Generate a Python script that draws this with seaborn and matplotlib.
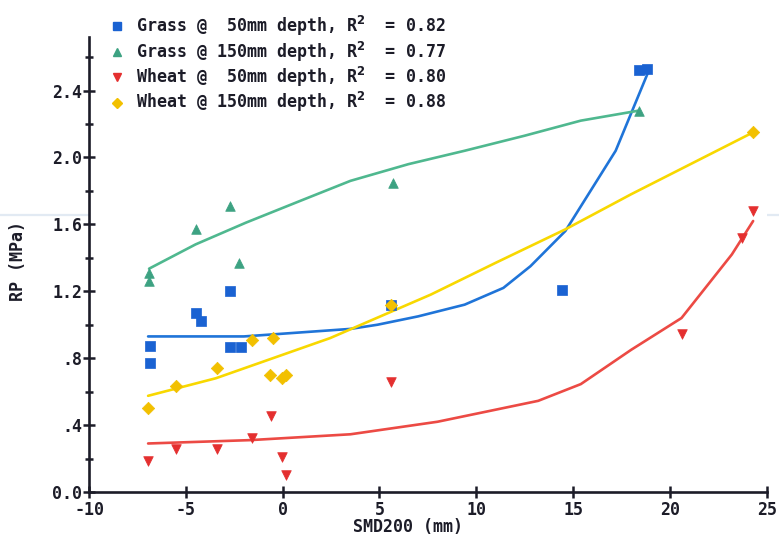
import matplotlib
matplotlib.use("Agg")
import matplotlib.pyplot as plt
from matplotlib.lines import Line2D
import pandas as pd
import seaborn as sns

# Measured points: soil moisture deficit at 200 mm (mm) vs. resistance to penetration (MPa)
grass50_x = [-6.85, -6.85, -4.5, -4.2, -2.7, -2.7, -2.15, 5.6, 14.45, 18.4, 18.8]
grass50_y = [0.87, 0.77, 1.07, 1.02, 1.20, 0.865, 0.865, 1.12, 1.21, 2.52, 2.53]

grass150_x = [-6.9, -6.9, -4.5, -2.7, -2.25, 5.7, 18.4]
grass150_y = [1.31, 1.26, 1.57, 1.71, 1.37, 1.85, 2.28]

wheat50_x = [-6.95, -5.5, -3.4, -1.6, -0.6, -0.05, 0.15, 5.6, 20.65, 23.7, 24.3]
wheat50_y = [0.185, 0.26, 0.26, 0.32, 0.455, 0.21, 0.10, 0.66, 0.945, 1.52, 1.68]

wheat150_x = [-6.95, -5.5, -3.4, -1.6, -0.5, -0.65, -0.02, 0.18, 5.6, 24.3]
wheat150_y = [0.50, 0.635, 0.74, 0.91, 0.92, 0.70, 0.68, 0.70, 1.12, 2.15]

# Fitted regression curves
grass50_fit_x = [-6.95, -2.0, 3.5, 4.9, 7.0, 9.4, 11.4, 12.8, 14.6, 15.9, 17.2, 18.95]
grass50_fit_y = [0.93, 0.93, 0.975, 1.0, 1.05, 1.12, 1.22, 1.35, 1.56, 1.80, 2.04, 2.53]

grass150_fit_x = [-6.9, -4.5, -1.9, 0.9, 3.5, 6.5, 9.4, 12.5, 15.4, 18.4]
grass150_fit_y = [1.335, 1.48, 1.61, 1.74, 1.86, 1.96, 2.04, 2.13, 2.22, 2.28]

wheat50_fit_x = [-6.95, -1.7, 3.5, 8.0, 10.5, 13.2, 15.4, 18.0, 20.6, 23.2, 24.3]
wheat50_fit_y = [0.29, 0.31, 0.345, 0.42, 0.48, 0.545, 0.645, 0.85, 1.04, 1.42, 1.62]

wheat150_fit_x = [-6.95, -3.45, 2.45, 7.65, 11.0, 14.6, 18.0, 24.3]
wheat150_fit_y = [0.575, 0.68, 0.92, 1.18, 1.37, 1.57, 1.78, 2.15]

series_labels = [
    "Grass @  50mm depth, R$^2$  = 0.82",
    "Grass @ 150mm depth, R$^2$  = 0.77",
    "Wheat @  50mm depth, R$^2$  = 0.80",
    "Wheat @ 150mm depth, R$^2$  = 0.88",
]

y_ticks = [0.0, 0.4, 0.8, 1.2, 1.6, 2.0, 2.4]
y_tick_labels = ["0.0", ".4", ".8", "1.2", "1.6", "2.0", "2.4"]
x_ticks = [-10, -5, 0, 5, 10, 15, 20, 25]
x_tick_labels = ["-10", "-5", "0", "5", "10", "15", "20", "25"]

sns.set_theme(style="ticks")
plt.rcParams["font.family"] = ["DejaVu Sans Mono", "DejaVu Sans"]
plt.rcParams["font.weight"] = "bold"
plt.rcParams["mathtext.default"] = "bf"

ink = "#1c1c28"
styles = [
    dict(marker="s", mcolor="#1a62d2", lcolor="#1f74d8"),
    dict(marker="^", mcolor="#3da282", lcolor="#4fb88f"),
    dict(marker="v", mcolor="#e42f2f", lcolor="#ec4a44"),
    dict(marker="D", mcolor="#f2c000", lcolor="#f8d800"),
]
points = [
    (grass50_x, grass50_y),
    (grass150_x, grass150_y),
    (wheat50_x, wheat50_y),
    (wheat150_x, wheat150_y),
]
fits = [
    (grass50_fit_x, grass50_fit_y),
    (grass150_fit_x, grass150_fit_y),
    (wheat50_fit_x, wheat50_fit_y),
    (wheat150_fit_x, wheat150_fit_y),
]

fig = plt.figure(figsize=(7.79, 5.37), dpi=100)
ax = fig.add_axes([0.1143, 0.0838, 0.8699, 0.8473])

# faint horizontal streak across the sheet
fig.add_artist(Line2D([0, 1], [0.5996, 0.5996], transform=fig.transFigure,
                      color="#e2eaf3", lw=1.6, zorder=0))

handles = []
for (px, py), (fx, fy), st, lab in zip(points, fits, styles, series_labels):
    sns.lineplot(x=fx, y=fy, ax=ax, color=st["lcolor"], lw=1.9,
                 sort=False, estimator=None, legend=False, zorder=2)
    sns.scatterplot(x=px, y=py, ax=ax, marker=st["marker"], color=st["mcolor"],
                    s=48 if st["marker"] != "D" else 40,
                    edgecolor=st["mcolor"], linewidth=0.5, legend=False, zorder=3)
    handles.append(Line2D([], [], linestyle="none", marker=st["marker"],
                          markersize=6.2 if st["marker"] != "D" else 5.4,
                          color=st["mcolor"], label=lab))

ax.set_xlim(-10, 25)
ax.set_ylim(0, 2.72)
ax.set_xticks(x_ticks)
ax.set_xticklabels(x_tick_labels)
ax.set_yticks(y_ticks)
ax.set_yticklabels(y_tick_labels)
ax.set_yticks([0.2, 0.6, 1.0, 1.4, 1.8, 2.2, 2.6], minor=True)

for side in ("top", "right"):
    ax.spines[side].set_visible(False)
for side in ("left", "bottom"):
    ax.spines[side].set_linewidth(1.9)
    ax.spines[side].set_color(ink)

ax.tick_params(axis="both", which="major", direction="inout", length=9,
               width=1.8, color=ink, labelcolor=ink, labelsize=12)
ax.tick_params(axis="y", which="major", pad=0.5)
ax.tick_params(axis="x", which="major", pad=2)
ax.tick_params(axis="y", which="minor", direction="inout", length=6,
               width=1.8, color=ink)

ax.set_xlabel("SMD200 (mm)", fontsize=12, fontweight="bold", color=ink)
ax.set_ylabel("RP (MPa)", fontsize=12, fontweight="bold", color=ink)
ax.xaxis.set_label_coords((408 - 89) / 677.7, -(518 - 492) / 455.0)
ax.yaxis.set_label_coords(-(89 - 27) / 677.7, (492 - 261) / 455.0)

leg = ax.legend(handles=handles, loc="upper left",
                bbox_to_anchor=(110 / 779, 1 - 14 / 537),
                bbox_transform=fig.transFigure, frameon=False,
                fontsize=12, handlelength=0.8, handletextpad=0.75,
                labelspacing=0.08, borderpad=0, borderaxespad=0)
for t in leg.get_texts():
    t.set_color(ink)
    t.set_fontweight("bold")

fig.savefig("out.png", dpi=100, facecolor="white")
